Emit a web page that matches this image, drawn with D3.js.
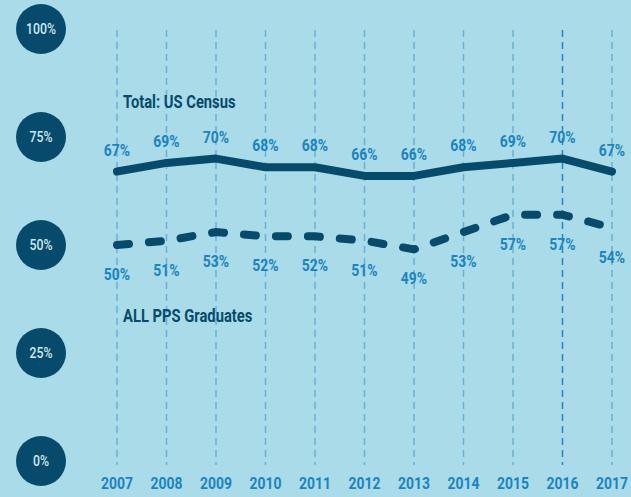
<!DOCTYPE html>
<html>
<head>
<meta charset="utf-8">
<script src="https://cdn.jsdelivr.net/npm/d3@7"></script>
<style>
  body { margin: 0; background: #a9dbe8; }
  svg { display: block; font-family: "Roboto", "Liberation Sans", sans-serif; font-weight: bold; }
</style>
</head>
<body>
<svg id="chart" width="631" height="497"></svg>
<script>
var years = [2007, 2008, 2009, 2010, 2011, 2012, 2013, 2014, 2015, 2016, 2017];
var census = [67, 69, 70, 68, 68, 66, 66, 68, 69, 70, 67];
var pps = [50, 51, 53, 52, 52, 51, 49, 53, 57, 57, 54];
var yTicks = [0, 25, 50, 75, 100];
var seriesNames = ["Total: US Census", "ALL PPS Graduates"];

var svg = d3.select("#chart");
var dark = "#064b6b", blue = "#1b84c0";
var squeeze = 0.82;

var x = d3.scalePoint().domain(years).range([117, 612]);
var y = d3.scaleLinear().domain([0, 100]).range([461, 29]);

function at(px, py) {
    return "translate(" + px + "," + py + ") scale(" + squeeze + ",1)";
}

// vertical gridlines
svg.selectAll("line.grid")
    .data(years)
    .enter().append("line")
    .attr("class", "grid")
    .attr("x1", function(d) { return x(d); })
    .attr("x2", function(d) { return x(d); })
    .attr("y1", 30)
    .attr("y2", 465)
    .attr("stroke", function(d) { return d === 2016 ? "#2786c2" : "#6cb0d8"; })
    .attr("stroke-width", 1.5)
    .attr("stroke-dasharray", "7,5");

// year labels
svg.selectAll("text.year")
    .data(years)
    .enter().append("text")
    .attr("class", "year")
    .attr("transform", function(d) { return at(x(d), 489); })
    .attr("text-anchor", "middle")
    .attr("font-size", 17)
    .attr("fill", blue)
    .text(function(d) { return d; });

// y circles
var tick = svg.selectAll("g.ytick")
    .data(yTicks)
    .enter().append("g")
    .attr("class", "ytick")
    .attr("transform", function(d) { return "translate(41," + y(d) + ")"; });
tick.append("circle").attr("r", 25).attr("fill", dark);
tick.append("text")
    .attr("transform", "scale(" + squeeze + ",1)")
    .attr("text-anchor", "middle")
    .attr("dy", "0.36em")
    .attr("font-size", 15)
    .attr("font-weight", 500)
    .attr("fill", "#cfe9f2")
    .text(function(d) { return d + "%"; });

var line = d3.line()
    .x(function(d, i) { return x(years[i]); })
    .y(function(d) { return y(d); });

svg.append("path")
    .datum(census)
    .attr("d", line)
    .attr("fill", "none")
    .attr("stroke", dark)
    .attr("stroke-width", 8)
    .attr("stroke-linecap", "round")
    .attr("stroke-linejoin", "round");

svg.append("path")
    .datum(pps)
    .attr("d", line)
    .attr("fill", "none")
    .attr("stroke", dark)
    .attr("stroke-width", 8)
    .attr("stroke-linecap", "round")
    .attr("stroke-dasharray", "12,20");

// value labels
svg.selectAll("text.census")
    .data(census)
    .enter().append("text")
    .attr("class", "census")
    .attr("transform", function(d, i) { return at(x(years[i]), y(d) - 16); })
    .attr("text-anchor", "middle")
    .attr("font-size", 17)
    .attr("fill", blue)
    .text(function(d) { return d + "%"; });

svg.selectAll("text.pps")
    .data(pps)
    .enter().append("text")
    .attr("class", "pps")
    .attr("transform", function(d, i) { return at(x(years[i]), y(d) + 35); })
    .attr("text-anchor", "middle")
    .attr("font-size", 17)
    .attr("fill", blue)
    .text(function(d) { return d + "%"; });

// series names
svg.append("text")
    .attr("transform", at(123, 108))
    .attr("font-size", 18)
    .attr("fill", dark)
    .text(seriesNames[0]);
svg.append("text")
    .attr("transform", at(123, 322))
    .attr("font-size", 18)
    .attr("fill", dark)
    .text(seriesNames[1]);
</script>
</body>
</html>
